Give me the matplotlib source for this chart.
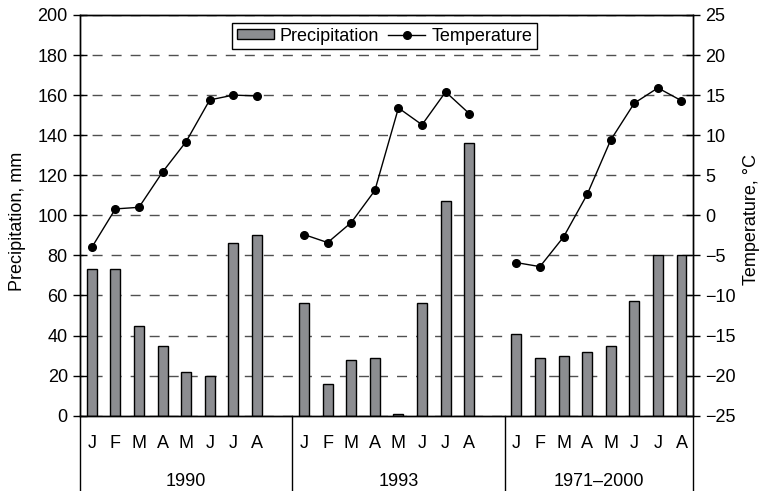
import matplotlib
matplotlib.use('Agg')
import matplotlib.pyplot as plt
import numpy as np
from matplotlib.patches import Patch
from matplotlib.lines import Line2D

months = ['J', 'F', 'M', 'A', 'M', 'J', 'J', 'A']
groups = ['1990', '1993', '1971–2000']

precip_1990 = [73, 73, 45, 35, 22, 20, 86, 90]
precip_1993 = [56, 16, 28, 29, 1, 56, 107, 136]
precip_norm = [41, 29, 30, 32, 35, 57, 80, 80]

temp_1990 = [-4.0, 0.8, 1.0, 5.4, 9.2, 14.4, 15.0, 14.9]
temp_1993 = [-2.4, -3.4, -0.9, 3.1, 13.4, 11.3, 15.4, 12.7]
temp_norm = [-5.9, -6.4, -2.7, 2.6, 9.4, 14.0, 15.9, 14.3]

plt.rcParams['font.family'] = ['Liberation Sans', 'DejaVu Sans']
fs = 13
plt.rcParams['font.size'] = fs

precip = [precip_1990, precip_1993, precip_norm]
temp = [temp_1990, temp_1993, temp_norm]

# one empty slot between the groups, like the excel original
slot = 9
fig = plt.figure(figsize=(7.67, 4.91), dpi=100)
ax = fig.add_axes([0.1043, 0.1534, 0.7996, 0.8161])
ax2 = ax.twinx()

bar_color = '#8c8d91'
for g in range(len(groups)):
    xs = np.arange(len(months)) + g * slot
    ax.bar(xs, precip[g], width=0.42, color=bar_color, edgecolor='black', linewidth=1, zorder=2)
    ax2.plot(xs, temp[g], color='black', linewidth=1, marker='o', markersize=5.5, zorder=3)

ax.set_xlim(-0.5, 2 * slot + len(months) - 0.5)
ax.set_ylim(0, 200)
ax.set_yticks(np.arange(0, 201, 20))
ax2.set_ylim(-25, 25)
ax2.set_yticks(np.arange(-25, 26, 5))

ax.set_axisbelow(True)
ax.yaxis.grid(True, color='#505050', linestyle=(5, (7.2, 6.5)), linewidth=1)
ax.set_xticks([])

for a in [ax, ax2]:
    for s in a.spines.values():
        s.set_linewidth(1)
        s.set_color('black')
    a.tick_params(axis='y', direction='inout', length=9.5, width=1, pad=4, labelsize=fs)

fig.text(18 / 767, 0.549, 'Precipitation, mm', rotation=90, ha='center', va='center', fontsize=fs)
fig.text(751 / 767, 0.553, 'Temperature, °C', rotation=90, ha='center', va='center', fontsize=fs)

# month and group labels under the axis
trans = ax.get_xaxis_transform()
for g in range(len(groups)):
    for i, m in enumerate(months):
        ax.text(g * slot + i, -0.07, m, transform=trans, ha='center', va='center', fontsize=fs)
    start = g * slot - 0.5
    end = g * slot + len(months) - 0.5
    if g < len(groups) - 1:
        end = (g + 1) * slot - 0.5
    ax.text((start + end) / 2, -0.165, groups[g], transform=trans, ha='center', va='center', fontsize=fs)

dividers = [-0.5, slot - 0.5, 2 * slot - 0.5, 2 * slot + len(months) - 0.5]
for d in dividers:
    ax.plot([d, d], [0, -0.2], transform=trans, color='black', linewidth=1, clip_on=False)

handles = [Patch(facecolor=bar_color, edgecolor='black', linewidth=1),
           Line2D([0], [0], color='black', linewidth=1, marker='o', markersize=5.5)]
leg = ax2.legend(handles, ['Precipitation', 'Temperature'], ncol=2, loc='upper center',
                 bbox_to_anchor=(0.4965, 0.98), borderaxespad=0, fancybox=False,
                 edgecolor='black', framealpha=1, handlelength=2.05, handleheight=0.45,
                 handletextpad=0.33, columnspacing=0.5, borderpad=0.25, fontsize=fs)
leg.get_frame().set_linewidth(1)

fig.savefig('out.png', dpi=100)
